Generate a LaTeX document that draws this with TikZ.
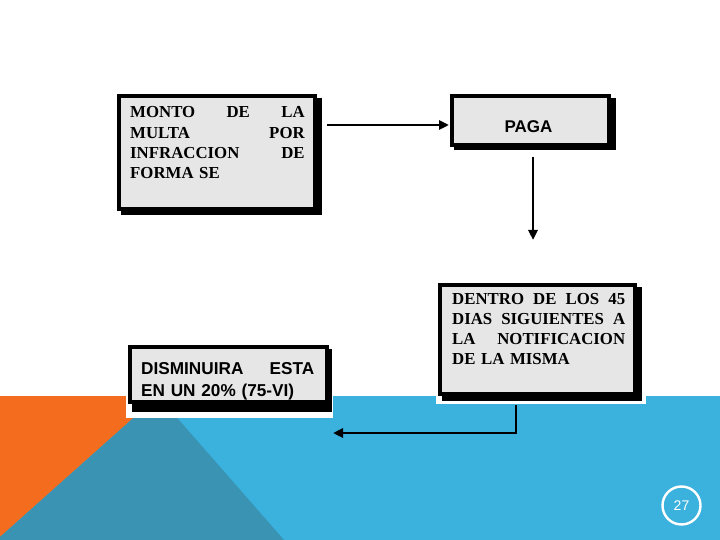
\documentclass[tikz,border=0pt]{standalone}
\usepackage{fontspec}
\setmainfont{Liberation Serif}
\setsansfont{Liberation Sans}
\usetikzlibrary{arrows.meta,calc}
\definecolor{bandblue}{RGB}{59,177,222}
\definecolor{bandteal}{RGB}{58,147,178}
\definecolor{bandorange}{RGB}{244,108,30}
\definecolor{boxgray}{RGB}{230,230,230}
\begin{document}
\begin{tikzpicture}[x=1pt,y=-1pt,
  flowbox/.style={draw=black, line width=4.2pt, fill=boxgray, inner sep=0pt, outer sep=0pt},
  boxshadow/.style={fill=black},
  serifbody/.style={font=\bfseries\fontsize{16.8}{20.3}\selectfont, inner sep=0pt, align=left, anchor=base west},
  sansbody/.style={font=\sffamily\bfseries\fontsize{17.2}{22.6}\selectfont, inner sep=0pt, align=left, anchor=base west},
  arr/.style={line width=2.7pt, -{Triangle[length=10pt,width=9pt]}},
  whitebg/.style={fill=white}
]
\useasboundingbox (0,0) rectangle (720,540);
\fill[white] (0,0) rectangle (720,540);
% bottom band
\fill[bandblue] (0,396) rectangle (720,540);
\fill[bandorange] (0,396) -- (158,396) -- (0,537) -- cycle;
\fill[bandteal] (158,396) -- (284,540) -- (0,540) -- (0,537) -- cycle;
% white image backings
\fill[whitebg] (126,396) rectangle (333,418);
\fill[whitebg] (436,396) rectangle (646,404);
% box positions (shadows drawn first)
\path (217,152.5) coordinate (c1) (530.5,120.5) coordinate (c2)
      (537.5,339.5) coordinate (c3) (228.5,374.5) coordinate (c4);
\fill[boxshadow] ($(c1)+(-96,-54.5)$) rectangle ($(c1)+(105,62.5)$);
\fill[boxshadow] ($(c2)+(-76.5,-22.5)$) rectangle ($(c2)+(85,30)$);
\fill[boxshadow] ($(c3)+(-95.5,-52.5)$) rectangle ($(c3)+(104.5,61)$);
\fill[boxshadow] ($(c4)+(-96.5,-25.5)$) rectangle ($(c4)+(103,37.5)$);
\node[flowbox, minimum width=196pt, minimum height=113pt] (b1) at (c1) {};
\node[flowbox, minimum width=157pt, minimum height=49pt] (pg) at (c2) {};
\node[flowbox, minimum width=195pt, minimum height=109pt] (b3) at (c3) {};
\node[flowbox, minimum width=197pt, minimum height=55pt] (b4) at (c4) {};
% texts
\node[serifbody, text width=174.5pt] (t1) at (130,118)
  {MONTO\hfill DE\hfill LA\\ MULTA\hfill POR\\ INFRACCION\hfill DE\\ FORMA SE};
\node[font=\sffamily\bfseries\fontsize{17}{17}\selectfont, inner sep=0pt, anchor=base] (tpg) at (528.5,133) {PAGA};
\node[serifbody, text width=173pt] (t3) at (452,304)
  {DENTRO\hfill DE\hfill LOS\hfill 45\\ DIAS\hfill SIGUIENTES\hfill A\\ LA\hfill NOTIFICACION\\ DE LA MISMA};
\node[sansbody, text width=173pt] (t4) at (141,374)
  {DISMINUIRA\hfill ESTA\\ EN UN 20\% (75-VI)};
% connectors
\coordinate (a1s) at (327,125);
\draw[arr, shorten >=3pt] (a1s) -- (a1s -| pg.west);
\coordinate (a2s) at (533,157);
\coordinate (a2e) at (533,240);
\draw[arr] (a2s) -- (a2e);
\coordinate (a3s) at (516,405);
\coordinate (a3e) at (333,433);
\draw[arr] (a3s) |- (a3e);
% page number
\node[circle, draw=white, line width=2.4pt, minimum size=38pt, inner sep=0pt, text=white,
  font=\sffamily\fontsize{14}{14}\selectfont] (pn) at (681.5,505.5) {27};
\end{tikzpicture}
\end{document}
